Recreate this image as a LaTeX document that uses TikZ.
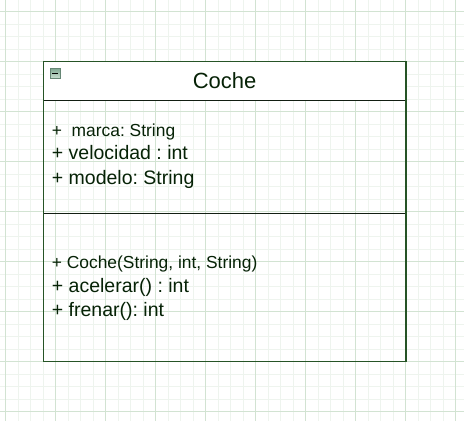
\documentclass[tikz,border=0pt]{standalone}
\usepackage{fontspec}
\setmainfont{Liberation Sans}
\frenchspacing
\definecolor{gridminor}{RGB}{238,244,238}
\definecolor{gridmajor}{RGB}{210,227,210}
\definecolor{umlborder}{RGB}{38,84,38}
\definecolor{umldivider}{RGB}{18,30,18}
\definecolor{umltext}{RGB}{6,34,6}
\definecolor{iconlight}{RGB}{200,222,208}
\definecolor{icondark}{RGB}{128,168,146}
\begin{document}
\begin{tikzpicture}[x=1pt,y=-1pt,
  member/.style={anchor=base west,inner sep=0pt,text=umltext,font=\fontsize{19.5}{22}\selectfont},
  membersmall/.style={member,font=\fontsize{17.4}{20}\selectfont},
  classtitle/.style={anchor=base,inner sep=0pt,text=umltext,font=\fontsize{22}{26}\selectfont}]
\useasboundingbox (0,0) rectangle (464,421);
\fill[white] (0,0) rectangle (464,421);
% background grid: fine lines every 12.5, stronger lines every 50
\foreach \k in {0,...,36} {
  \draw[gridminor,line width=0.9pt] ({5.7+12.5*\k},0) -- ++(0,421);
}
\foreach \k in {0,...,33} {
  \draw[gridminor,line width=0.9pt] (0,{11.7+12.5*\k}) -- ++(464,0);
}
\foreach \k in {0,...,9} {
  \draw[gridmajor,line width=0.9pt] ({5.7+50*\k},0) -- ++(0,421);
}
\foreach \k in {0,...,8} {
  \draw[gridmajor,line width=0.9pt] (0,{11.7+50*\k}) -- ++(464,0);
}
% class box
\fill[white] (43.3,61.7) rectangle (405.8,100);
\draw[umldivider,line width=1pt] (43.3,100) -- (405.8,100);
\draw[umldivider,line width=1pt] (43.3,213.3) -- (405.8,213.3);
\draw[umlborder,line width=1.4pt] (43.3,61.7) rectangle (405.8,361.4);
% collapse icon
\shade[top color=icondark,bottom color=iconlight,draw=icondark!80!black,line width=0.5pt] (50.5,68.5) rectangle (60,78);
\draw[black,line width=1.2pt] (52.3,73.3) -- (58.2,73.3);
% texts
\node[classtitle] (title) at (224.6,88.3) {Coche};
\node[membersmall] (marca) at (51.7,136.7) {+\ \ marca: String};
\node[member] (velocidad) at (51.7,159.5) {+ velocidad : int};
\node[member] (modelo) at (51.7,184) {+ modelo: String};
\node[membersmall] (ctor) at (51.7,268.5) {+ Coche(String, int, String)};
\node[member] (acelerar) at (51.7,292.5) {+ acelerar() : int};
\node[member] (frenar) at (51.7,316) {+ frenar(): int};
\end{tikzpicture}
\end{document}
